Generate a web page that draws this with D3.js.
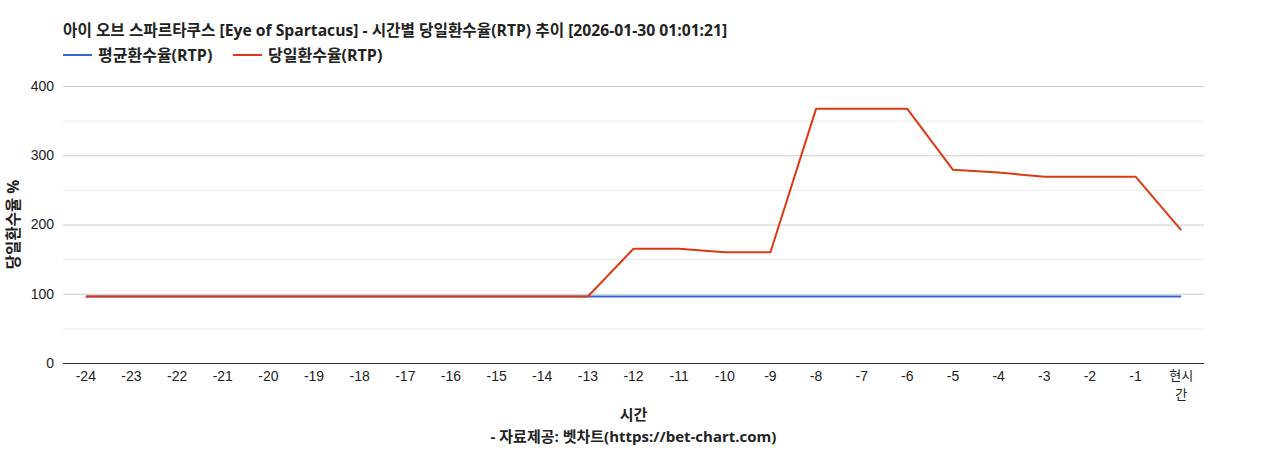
<!DOCTYPE html>
<html>
<head>
<meta charset="utf-8">
<script src="https://cdn.jsdelivr.net/npm/d3@7"></script>
<style>
  body { margin: 0; background: #fff; }
  text { font-family: "Liberation Sans", Arial, "Noto Sans CJK KR", sans-serif; }
  .kr { font-family: "Open Sans", "Noto Sans CJK KR", sans-serif; }
</style>
</head>
<body>
<div id="chart"></div>
<script>
const width = 1268;
const height = 450;
const margin = { top: 86, right: 64, bottom: 87, left: 63 };

// data
const hours = ["-24", "-23", "-22", "-21", "-20", "-19", "-18", "-17", "-16", "-15", "-14", "-13",
    "-12", "-11", "-10", "-9", "-8", "-7", "-6", "-5", "-4", "-3", "-2", "-1", "현시간"];
const avgRtp = [96, 96, 96, 96, 96, 96, 96, 96, 96, 96, 96, 96,
    96, 96, 96, 96, 96, 96, 96, 96, 96, 96, 96, 96, 96];
const dayRtp = [96, 96, 96, 96, 96, 96, 96, 96, 96, 96, 96, 96,
    165, 165, 160, 160, 367, 367, 367, 279, 275, 269, 269, 269, 192];
const yTicks = [0, 100, 200, 300, 400];
const yMinor = [50, 150, 250, 350];

const series = [
    { name: "평균환수율(RTP)", values: avgRtp, color: "#3366cc" },
    { name: "당일환수율(RTP)", values: dayRtp, color: "#dc3912" }
];

const svg = d3.select("#chart").append("svg")
    .attr("width", width)
    .attr("height", height);

const innerW = width - margin.left - margin.right;
const innerH = height - margin.top - margin.bottom;

const x = d3.scaleBand().domain(hours).range([0, innerW]);
const y = d3.scaleLinear().domain([0, 400]).range([innerH, 0]);

const g = svg.append("g").attr("transform", `translate(${margin.left},${margin.top})`);

// gridlines
g.selectAll(".minor").data(yMinor).enter().append("line")
    .attr("x1", 0).attr("x2", innerW)
    .attr("y1", d => y(d) + 0.5).attr("y2", d => y(d) + 0.5)
    .attr("stroke", "#ebebeb");
g.selectAll(".major").data(yTicks.slice(1)).enter().append("line")
    .attr("x1", 0).attr("x2", innerW)
    .attr("y1", d => y(d) + 0.5).attr("y2", d => y(d) + 0.5)
    .attr("stroke", "#cccccc");

// y axis labels
const yAxis = g.append("g").call(d3.axisLeft(y).tickValues(yTicks).tickSize(0).tickPadding(9));
yAxis.select(".domain").remove();
yAxis.selectAll("text").attr("font-size", 14).attr("fill", "#222")
    .style("font-family", "'Liberation Sans', Arial, sans-serif");

// lines
const line = d3.line()
    .x((d, i) => x(hours[i]) + x.bandwidth() / 2)
    .y(d => y(d));

series.forEach(s => {
    g.append("path")
        .datum(s.values)
        .attr("fill", "none")
        .attr("stroke", s.color)
        .attr("stroke-width", 2)
        .attr("stroke-linejoin", "round")
        .attr("d", line);
});

// baseline
g.append("line")
    .attr("x1", 0).attr("x2", innerW)
    .attr("y1", innerH + 0.5).attr("y2", innerH + 0.5)
    .attr("stroke", "#333");

// x axis labels, last one wraps like the original
const xAxis = g.append("g")
    .attr("transform", `translate(0,${innerH})`)
    .call(d3.axisBottom(x).tickSize(0).tickPadding(8));
xAxis.select(".domain").remove();
xAxis.selectAll("text").attr("font-size", 14).attr("fill", "#222")
    .each(function(d) {
        if (d === "현시간") {
            const t = d3.select(this).text(null).attr("font-size", 13);
            t.append("tspan").attr("x", 0).attr("dy", "0.71em").text("현시");
            t.append("tspan").attr("x", 0).attr("dy", 19).text("간");
        }
    });

// title
svg.append("text")
    .attr("class", "kr")
    .attr("x", margin.left)
    .attr("y", 36)
    .attr("font-size", 15.7)
    .attr("font-weight", "bold")
    .attr("fill", "#222")
    .text("아이 오브 스파르타쿠스 [Eye of Spartacus] - 시간별 당일환수율(RTP) 추이 [2026-01-30 01:01:21]");

// legend
const legend = svg.append("g").attr("transform", `translate(${margin.left},55)`);
let lx = 0;
series.forEach(s => {
    legend.append("line")
        .attr("x1", lx).attr("x2", lx + 29)
        .attr("y1", 0).attr("y2", 0)
        .attr("stroke", s.color).attr("stroke-width", 2);
    legend.append("text")
        .attr("class", "kr")
        .attr("x", lx + 35).attr("y", 5.5)
        .attr("font-size", 16).attr("font-weight", "bold").attr("fill", "#222")
        .text(s.name);
    lx += 170;
});

// y axis title
svg.append("text")
    .attr("class", "kr")
    .attr("transform", `translate(19,${margin.top + innerH / 2}) rotate(-90)`)
    .attr("text-anchor", "middle")
    .attr("font-size", 15.5).attr("font-weight", "bold").attr("fill", "#222")
    .text("당일환수율 %");

// x axis title and source
svg.append("text")
    .attr("class", "kr")
    .attr("x", margin.left + innerW / 2).attr("y", 420)
    .attr("text-anchor", "middle")
    .attr("font-size", 15).attr("font-weight", "bold").attr("fill", "#222")
    .text("시간");
svg.append("text")
    .attr("class", "kr")
    .attr("x", margin.left + innerW / 2).attr("y", 442)
    .attr("text-anchor", "middle")
    .attr("font-size", 15).attr("font-weight", "bold").attr("fill", "#222")
    .text("- 자료제공: 벳차트(https://bet-chart.com)");
</script>
</body>
</html>
